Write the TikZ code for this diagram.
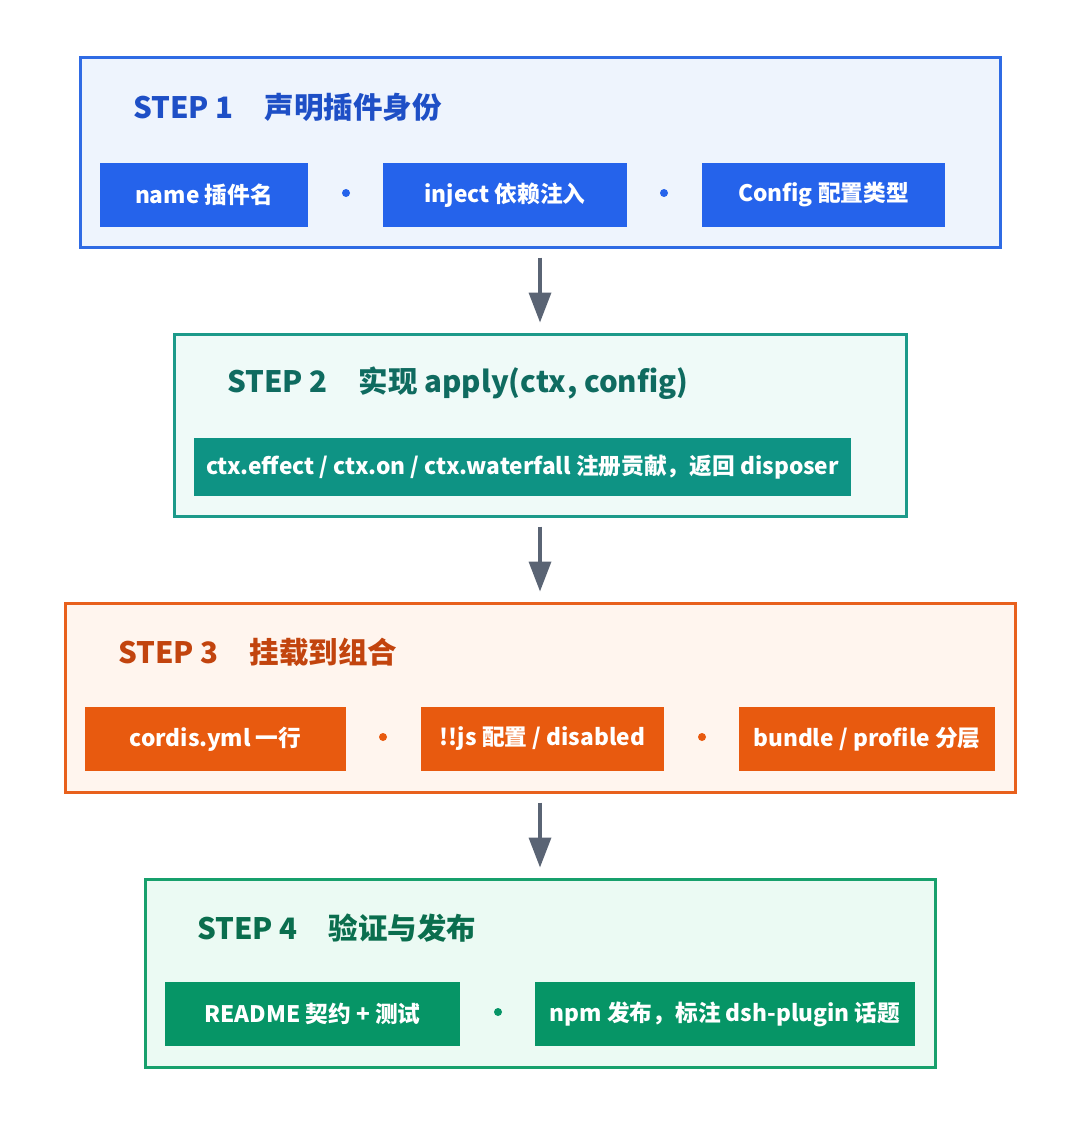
\documentclass[tikz,border=0pt]{standalone}
\usepackage{fontspec}
\setmainfont{Noto Sans CJK SC}
\usetikzlibrary{arrows.meta,positioning}
\definecolor{blueline}{HTML}{2F6BE4}
\definecolor{bluefill}{HTML}{EEF4FD}
\definecolor{bluetext}{HTML}{1E4FC6}
\definecolor{bluechip}{HTML}{2563EB}
\definecolor{tealline}{HTML}{1C9A8A}
\definecolor{tealfill}{HTML}{EFFAF8}
\definecolor{tealtext}{HTML}{0F6B60}
\definecolor{tealchip}{HTML}{0E9384}
\definecolor{orgline}{HTML}{E8601C}
\definecolor{orgfill}{HTML}{FFF5EE}
\definecolor{orgtext}{HTML}{C2440E}
\definecolor{orgchip}{HTML}{E85A0F}
\definecolor{grnline}{HTML}{17A06C}
\definecolor{grnfill}{HTML}{EBFAF3}
\definecolor{grntext}{HTML}{0A6E4E}
\definecolor{grnchip}{HTML}{069566}
\definecolor{flowgray}{HTML}{5A6474}
\begin{document}
\begin{tikzpicture}[x=1pt,y=-1pt,
    card/.style={draw=#1line,fill=#1fill,line width=3pt,minimum height=189pt,inner sep=0pt},
    head/.style={anchor=west,inner sep=0pt,text=#1text,font=\fontsize{29.5}{34}\selectfont\bfseries},
    chip/.style={fill=#1chip,text=white,minimum height=64pt,inner sep=0pt,font=\fontsize{22.7}{26}\selectfont\bfseries},
    dot/.style={circle,fill=#1chip,minimum size=8pt,inner sep=0pt},
    flow/.style={draw=flowgray,line width=3.5pt,-{Triangle[length=30pt,width=22pt]},shorten <=9pt,shorten >=10pt}]
  \useasboundingbox (0,0) rectangle (1080,1126);
                % step 1
                \node[card=blue,minimum width=920pt](s1) at (540,152.5){};
                \node[head=blue](t1) at (133,107){STEP 1\hspace{1.05em}声明插件身份};
                \node[chip=blue,minimum width=208pt](c11) at (204,195){name 插件名};
                \node[chip=blue,minimum width=244pt](c12) at (505,195){inject 依赖注入};
                \node[chip=blue,minimum width=243pt](c13) at (823.5,195){Config 配置类型};
                \node[dot=blue](d11) at (346,193){};
                \node[dot=blue](d12) at (664,193){};
                % step 2
                \node[card=teal,minimum width=732pt,minimum height=182pt](s2) at (540,425){};
                \node[head=teal](t2) at (227,383){STEP 2\hspace{1.05em}实现 apply(ctx, config)};
                \node[chip=teal,minimum width=657pt,minimum height=58pt](c21) at (522.5,467){ctx.effect / ctx.on / ctx.waterfall 注册贡献，返回 disposer};
                % step 3
                \node[card=org,minimum width=950pt](s3) at (540,697.5){};
                \node[head=org](t3) at (118,652){STEP 3\hspace{1.05em}挂载到组合};
                \node[chip=org,minimum width=261pt](c31) at (215.5,739){cordis.yml 一行};
                \node[chip=org,minimum width=243pt](c32) at (542.5,739){!!js 配置 / disabled};
                \node[chip=org,minimum width=256pt](c33) at (867,739){bundle / profile 分层};
                \node[dot=org](d31) at (383,737){};
                \node[dot=org](d32) at (702,737){};
                % step 4
                \node[card=grn,minimum width=790pt,minimum height=188pt](s4) at (540,973){};
                \node[head=grn](t4) at (197,928){STEP 4\hspace{1.05em}验证与发布};
                \node[chip=grn,minimum width=295pt](c41) at (312.5,1014){README 契约 + 测试};
                \node[chip=grn,minimum width=380pt](c42) at (725,1014){npm 发布，标注 dsh-plugin 话题};
                \node[dot=grn](d41) at (498,1012){};
                % arrows
                \draw[flow](s1) -- (s2);
                \draw[flow](s2) -- (s3);
                \draw[flow](s3) -- (s4);
\end{tikzpicture}
\end{document}
